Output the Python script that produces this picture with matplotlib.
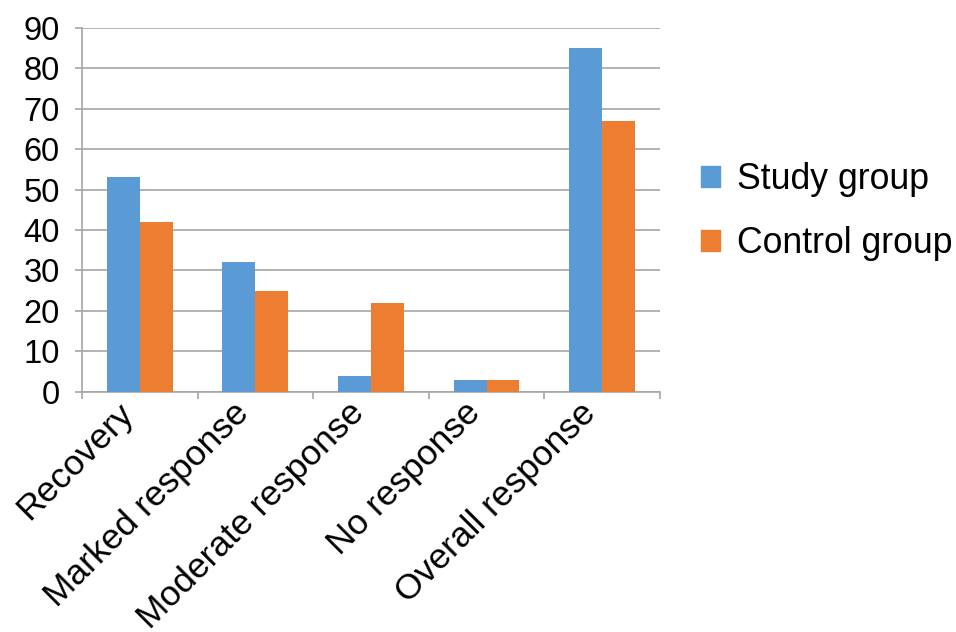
import numpy as np
import matplotlib
matplotlib.use('Agg')
import matplotlib.pyplot as plt
from matplotlib.patches import Patch

categories = ['Recovery', 'Marked response', 'Moderate response', 'No response', 'Overall response']
study_group = [53, 32, 4, 3, 85]
control_group = [42, 25, 22, 3, 67]
y_ticks = [0, 10, 20, 30, 40, 50, 60, 70, 80, 90]

plt.rcParams['font.family'] = ['Liberation Sans', 'DejaVu Sans']

blue = '#5B9BD5'
orange = '#ED7D31'
grid_color = '#A6A6A6'

fig = plt.figure(figsize=(9.56, 6.32), dpi=100)
ax = fig.add_axes([0.0858, 0.380, 0.6045, 0.576])

x = np.arange(len(categories))
w = 0.285
ax.bar(x - w / 2, study_group, width=w, color=blue, zorder=3)
ax.bar(x + w / 2, control_group, width=w, color=orange, zorder=3)

ax.set_xlim(-0.5, len(categories) - 0.5)
ax.set_ylim(0, 90)
ax.set_yticks(y_ticks)
ax.yaxis.grid(True, color=grid_color, linewidth=1.2, zorder=0)

# tick marks on the category boundaries, labels at the centres
ax.set_xticks(np.arange(len(categories) + 1) - 0.5)
ax.set_xticklabels([])
ax.set_xticks(x, minor=True)
ax.set_xticklabels(categories, minor=True, rotation=45, ha='right',
                   va='bottom', rotation_mode='anchor', fontsize=25.5)
ax.tick_params(axis='x', which='minor', length=0, pad=20)
ax.tick_params(axis='x', which='major', length=5, color=grid_color, width=1.2)
ax.tick_params(axis='y', length=5, color=grid_color, width=1.2, labelsize=23.5, pad=11)

for side in ['top', 'right']:
    ax.spines[side].set_visible(False)
for side in ['left', 'bottom']:
    ax.spines[side].set_color(grid_color)
    ax.spines[side].set_linewidth(1.2)

handles = [Patch(color=blue, label='Study group'), Patch(color=orange, label='Control group')]
fig.legend(handles=handles, loc='center left', bbox_to_anchor=(0.733, 0.665),
           frameon=False, fontsize=25.7, handlelength=0.54, handleheight=0.54,
           handletextpad=0.47, labelspacing=0.82, borderaxespad=0, borderpad=0)

fig.savefig('out.png', dpi=100)
